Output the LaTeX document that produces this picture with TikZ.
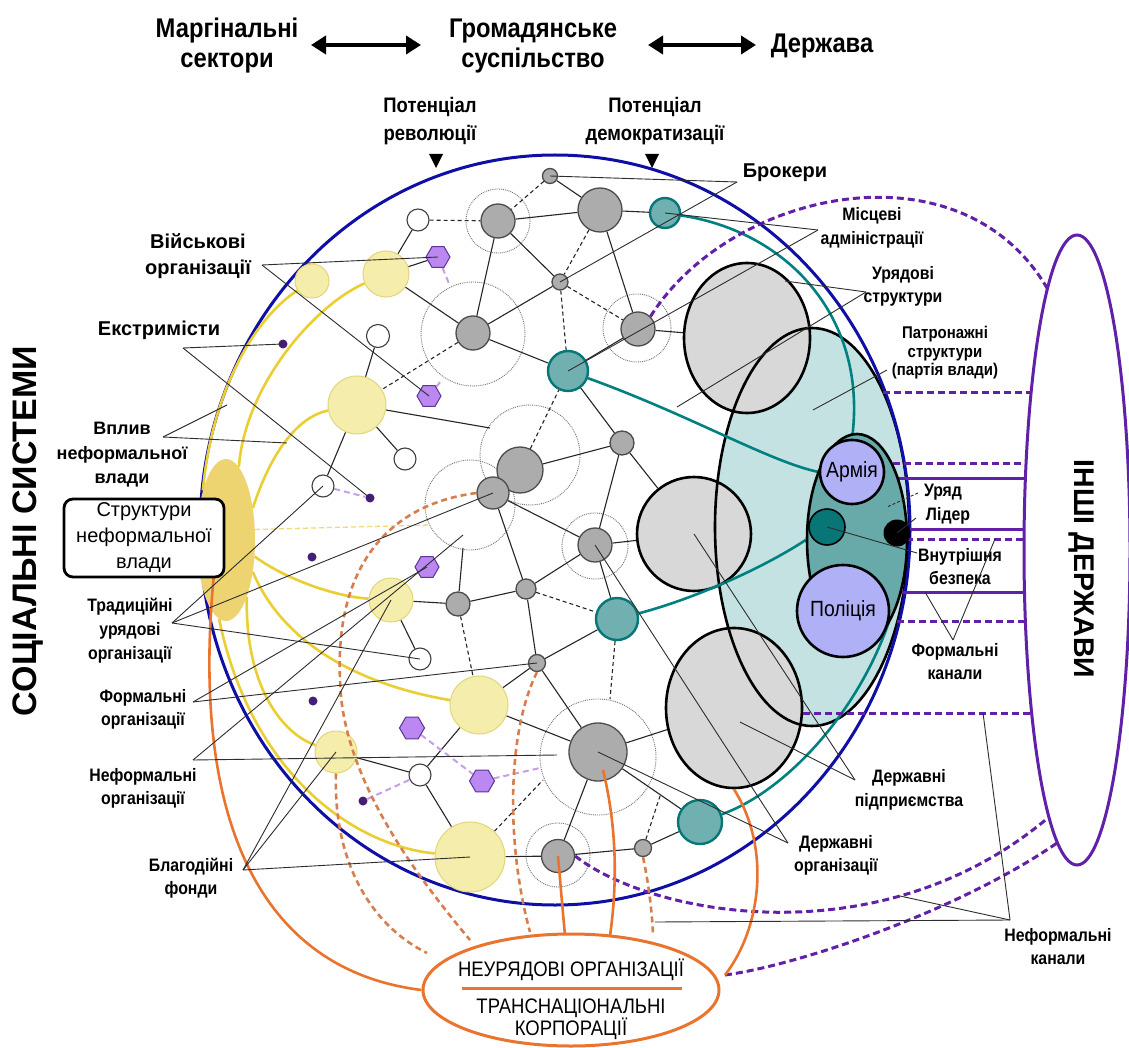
\documentclass[tikz,border=0pt]{standalone}
\usepackage{fontspec}
\setmainfont{Liberation Sans}
\newfontfamily\narfont[FakeStretch=0.88]{Liberation Sans}
\usetikzlibrary{shapes.geometric,arrows.meta}
\pgfdeclarelayer{back}
\pgfdeclarelayer{mid}
\pgfdeclarelayer{front}
\pgfsetlayers{back,mid,main,front}
\definecolor{bluec}{RGB}{15,15,165}
\definecolor{yfill}{RGB}{244,237,172}
\definecolor{yedge}{RGB}{226,214,120}
\definecolor{yline}{RGB}{234,206,52}
\definecolor{blobc}{RGB}{238,212,112}
\definecolor{tealc}{RGB}{0,128,128}
\definecolor{tealfill}{RGB}{112,176,176}
\definecolor{tealbg}{RGB}{196,226,226}
\definecolor{tealin}{RGB}{104,170,170}
\definecolor{tealdark}{RGB}{8,118,118}
\definecolor{gfill}{RGB}{172,172,172}
\definecolor{gbig}{RGB}{216,216,216}
\definecolor{pfill}{RGB}{186,136,240}
\definecolor{pedge}{RGB}{92,52,150}
\definecolor{lav}{RGB}{196,160,232}
\definecolor{dpur}{RGB}{96,32,168}
\definecolor{dotc}{RGB}{70,30,120}
\definecolor{orc}{RGB}{234,116,46}
\definecolor{ordash}{RGB}{214,126,78}
\definecolor{armc}{RGB}{176,176,246}
\definecolor{lblc}{RGB}{45,45,45}
\newcommand\FtTop{\narfont\bfseries\fontsize{27}{30}\selectfont}
\newcommand\FtPot{\narfont\bfseries\fontsize{21}{28}\selectfont}
\newcommand\FtMid{\bfseries\fontsize{20}{26}\selectfont}
\newcommand\FtSm{\narfont\bfseries\fontsize{18}{24}\selectfont}
\newcommand\FtSmB{\narfont\bfseries\fontsize{18}{23}\selectfont}
\newcommand\FtPat{\narfont\bfseries\fontsize{17}{18.5}\selectfont}
\newcommand\FtVp{\bfseries\fontsize{18}{24.5}\selectfont}
\newcommand\FtBox{\fontsize{20}{26}\selectfont}
\newcommand\FtIn{\narfont\fontsize{22}{24}\selectfont}
\newcommand\FtNgo{\narfont\fontsize{21}{22}\selectfont}
\newcommand\FtBig{\bfseries\fontsize{34}{38}\selectfont}
\newcommand\FtSt{\bfseries\fontsize{28.5}{32}\selectfont}
\tikzset{
 gnode/.style={circle,draw=black!70,line width=1.3pt,fill=gfill,inner sep=0pt,minimum size=#1},
 tnode/.style={circle,draw=tealdark,line width=2.4pt,fill=tealfill,inner sep=0pt,minimum size=#1},
 ynode/.style={circle,draw=yedge,line width=1pt,fill=yfill,inner sep=0pt,minimum size=#1},
 wnode/.style={circle,draw=black!75,line width=1.1pt,fill=white,inner sep=0pt,minimum size=#1},
 pnode/.style={regular polygon,regular polygon sides=6,draw=pedge,line width=1pt,fill=pfill,inner sep=0pt,minimum size=#1},
 dnode/.style={circle,fill=dotc,inner sep=0pt,minimum size=9pt},
 ringd/.style={draw=black!55,densely dotted,line width=0.9pt},
 netl/.style={draw=black!85,line width=1.1pt},
 dnetl/.style={draw=black!85,line width=1.1pt,dash pattern=on 4pt off 3pt},
 lavl/.style={draw=lav,line width=2pt,dash pattern=on 6pt off 4pt},
 lblline/.style={draw=lblc,line width=0.9pt},
 yl/.style={draw=yline,line width=2.6pt},
 tl/.style={draw=tealc,line width=2.6pt},
 chs/.style={draw=dpur,line width=3pt},
 chd/.style={draw=dpur,line width=3pt,dash pattern=on 7pt off 4pt},
 ors/.style={draw=orc,line width=2.6pt},
 ord/.style={draw=ordash,line width=2.6pt,dash pattern=on 6pt off 4pt},
 bigc/.style={draw=black,line width=2.6pt,inner sep=0pt},
 txt/.style={align=center,inner sep=0pt,text=black},
 dblarrow/.style={line width=4pt,{Triangle[length=15pt,width=18pt]}-{Triangle[length=15pt,width=18pt]}},
}
\begin{document}
\begin{tikzpicture}[x=1pt,y=-1pt]
\useasboundingbox (0,0) rectangle (1129,1048);

% ---------------- back: fills and big structures
\begin{pgfonlayer}{back}
\fill[white] (0,0) rectangle (1129,1048);
\fill[tealbg] (812,527) ellipse [x radius=97,y radius=199];
\fill[gbig] (747,338) ellipse [x radius=63,y radius=75];
\fill[gbig] (694,534) circle [radius=57];
\fill[gbig] (734,708) ellipse [x radius=68,y radius=80];
\node[bigc,ellipse,minimum width=126,minimum height=150] (gov) at (747,338) {};
\node[bigc,circle,minimum size=114] (mid2) at (694,534) {};
\node[bigc,ellipse,minimum width=136,minimum height=160] (ent) at (734,708) {};
\node[bigc,ellipse,minimum width=194,minimum height=398] (patrel) at (812,527) {};
\draw[bluec,line width=3pt] (555,530) ellipse [x radius=355,y radius=375];
\draw[ringd] (498,221) circle [radius=32];
\draw[ringd] (473,334) circle [radius=52];
\draw[ringd] (637,328) circle [radius=34];
\draw[ringd] (530,455) circle [radius=50];
\draw[ringd] (470,505) circle [radius=45];
\draw[ringd] (595,546) circle [radius=33];
\draw[ringd] (598,757) circle [radius=58];
\draw[ringd] (558,855) circle [radius=32];
\end{pgfonlayer}

% ---------------- main nodes
\node[ellipse,fill=blobc,inner sep=0pt,minimum width=58,minimum height=162] (blob) at (226,540) {};
\node[gnode=15] (g1) at (550,176) {};
\node[gnode=34] (g2) at (498,221) {};
\node[gnode=44] (g3) at (600,210) {};
\node[gnode=16] (g4) at (560,282) {};
\node[gnode=34] (g5) at (473,333) {};
\node[gnode=34] (g6) at (638,329) {};
\node[gnode=46] (g7) at (520,470) {};
\node[gnode=24] (g8) at (622,443) {};
\node[gnode=32] (g9) at (493,493) {};
\node[gnode=34] (g10) at (595,545) {};
\node[gnode=24] (g11) at (458,604) {};
\node[gnode=20] (g12) at (526,589) {};
\node[gnode=17] (g13) at (537,663) {};
\node[gnode=58] (g14) at (598,752) {};
\node[gnode=33] (g15) at (558,856) {};
\node[gnode=17] (g16) at (643,848) {};
\node[tnode=30] (t1) at (665,213) {};
\node[tnode=40] (t2) at (568,371) {};
\node[tnode=42] (t3) at (617,619) {};
\node[tnode=44] (t4) at (700,822) {};
\node[ynode=34] (y1) at (312,281) {};
\node[ynode=46] (y2) at (386,274) {};
\node[ynode=58] (y3) at (357,405) {};
\node[ynode=44] (y4) at (391,600) {};
\node[ynode=58] (y5) at (479,705) {};
\node[ynode=42] (y6) at (336,752) {};
\node[ynode=70] (y7) at (470,857) {};
\node[wnode=22] (w1) at (418,220) {};
\node[wnode=23] (w2) at (378,336) {};
\node[wnode=22] (w3) at (405,459) {};
\node[wnode=22] (w4) at (323,486) {};
\node[wnode=22] (w5) at (420,659) {};
\node[wnode=22] (w6) at (420,775) {};
\node[pnode=24] (p1) at (438,257) {};
\node[pnode=24] (p2) at (429,396) {};
\node[pnode=24] (p3) at (427,567) {};
\node[pnode=25] (p4) at (412,728) {};
\node[pnode=25] (p5) at (482,781) {};
\node[dnode] (d1) at (283,344) {};
\node[dnode] (d2) at (370,498) {};
\node[dnode] (d3) at (312,557) {};
\node[dnode] (d4) at (313,701) {};
\node[dnode] (d5) at (363,801) {};
\node[ellipse,draw=black,line width=2.6pt,fill=tealin,inner sep=0pt,minimum width=100,minimum height=212] (uryad) at (857,540) {};
\node[circle,draw=black,line width=2.6pt,fill=armc,inner sep=0pt,minimum size=64,font=\FtIn] (army) at (852,472) {Армія};
\node[circle,draw=black,line width=2.6pt,fill=armc,inner sep=0pt,minimum size=92,font=\FtIn] (police) at (843,611) {Поліція};
\node[circle,draw=black,line width=1.6pt,fill=tealdark,inner sep=0pt,minimum size=36] (sec) at (827,527) {};
\node[circle,fill=black,inner sep=0pt,minimum size=27] (lead) at (897,533) {};
\node[ellipse,draw=dpur,line width=3pt,inner sep=0pt,minimum width=106,minimum height=630] (states) at (1077,550) {};
\node[ellipse,draw=orc,line width=3pt,fill=white,inner sep=0pt,minimum width=296,minimum height=112] (ngo) at (571,990) {};

% coordinates
\coordinate (r7) at (490,428);
\coordinate (r9) at (463,548);
\coordinate (r14a) at (610,699);
\coordinate (r14b) at (543,780);
\coordinate (r14c) at (540,768);
\coordinate (r14d) at (660,796);
\coordinate (p1s) at (450,286);
\coordinate (p2s) at (441,381);
\coordinate (yd1) at (430,525);
\coordinate (tend) at (896,598);
\coordinate (c392) at (883,392);  \coordinate (s392) at (1031,392);
\coordinate (c463) at (882,463);  \coordinate (s463) at (1026,463);
\coordinate (c478) at (883,478);  \coordinate (s478) at (1025,478);
\coordinate (c529) at (906,529);  \coordinate (s529) at (1024,529);
\coordinate (c539) at (906,539);  \coordinate (s539) at (1024,539);
\coordinate (c592) at (886,592);  \coordinate (s592) at (1024,592);
\coordinate (c621) at (897,621);  \coordinate (s621) at (1025,621);
\coordinate (c713) at (803,713);  \coordinate (s713) at (1032,713);
\coordinate (s288) at (1047,288);
\coordinate (s817) at (1049,817);
\coordinate (s843) at (1057,843);
\coordinate (ngoR) at (725,975);
\coordinate (ngoT1) at (565,935);
\coordinate (orgtop) at (214,574);

% ---------------- back: yellow lines
\begin{pgfonlayer}{back}
\draw[yl] (blob.115) .. controls (212,390) and (255,318) .. (y1);
\draw[yl] (blob.80) .. controls (245,385) and (315,305) .. (y2);
\draw[yl] (blob.50) .. controls (275,440) and (305,415) .. (y3);
\draw[yl] (blob.-30) .. controls (290,582) and (340,597) .. (y4);
\draw[yl] (blob.-50) .. controls (290,660) and (390,690) .. (y5);
\draw[yl] (blob.-70) .. controls (245,690) and (285,735) .. (y6);
\draw[yl] (blob.-95) .. controls (250,770) and (350,845) .. (y7);
\draw[draw=yline!70,line width=1.3pt,dash pattern=on 5pt off 3pt] (blob.20) -- (yd1);
\end{pgfonlayer}

% ---------------- mid: network edges
\begin{pgfonlayer}{mid}
\draw[dnetl] (w1) -- (g2);
\draw[netl] (g2) -- (g3);
\draw[netl] (g3) -- (t1);
\draw[netl] (g1) -- (g3);
\draw[dnetl] (g1) -- (g2);
\draw[netl] (g2) -- (g5);
\draw[netl] (g2) -- (g4);
\draw[dnetl] (g3) -- (g4);
\draw[netl] (g3) -- (g6);
\draw[netl] (g4) -- (g5);
\draw[dnetl] (g4) -- (g6);
\draw[dnetl] (g4) -- (t2);
\draw[netl] (g5) -- (t2);
\draw[netl] (t2) -- (g6);
\draw[netl] (g6) -- (gov);
\draw[netl] (w1) -- (y2);
\draw[netl] (y2) -- (p1);
\draw[netl] (y2) -- (g5);
\draw[dnetl] (g5) -- (y3);
\draw[netl] (w2) -- (y3);
\draw[netl] (y3) -- (w3);
\draw[netl] (w4) -- (y3);
\draw[netl] (y3) -- (r7);
\draw[dnetl] (g7) -- (t2);
\draw[netl] (t2) -- (g8);
\draw[netl] (g8) -- (g7);
\draw[netl] (g8) -- (g10);
\draw[netl] (g8) -- (mid2);
\draw[netl] (g9) -- (g10);
\draw[netl] (g9) -- (g12);
\draw[netl] (g11) -- (r9);
\draw[netl] (g11) -- (g12);
\draw[netl] (g11) -- (y4);
\draw[dnetl] (g11) -- (y5);
\draw[netl] (g12) -- (g10);
\draw[netl] (g12) -- (g13);
\draw[dnetl] (g12) -- (t3);
\draw[netl] (g10) -- (t3);
\draw[netl] (g13) -- (t3);
\draw[dnetl] (t3) -- (r14a);
\draw[netl] (g10) -- (mid2);
\draw[netl] (g13) -- (g14);
\draw[netl] (y5) -- (g13);
\draw[netl] (y5) -- (g14);
\draw[netl] (w6) -- (y5);
\draw[netl] (w6) -- (y6);
\draw[netl] (w6) -- (y7);
\draw[netl] (y4) -- (w5);
\draw[netl] (g14) -- (t4);
\draw[netl] (g14) -- (g15);
\draw[netl] (g14) -- (ent);
\draw[netl] (g15) -- (y7);
\draw[netl] (g15) -- (g16);
\draw[netl] (g16) -- (t4);
\draw[dnetl] (y7) -- (r14b);
\draw[dnetl] (g16) -- (r14d);
\draw[lavl] (p1) -- (p1s);
\draw[lavl] (p2) -- (p2s);
\draw[lavl] (w4) -- (d2);
\draw[lavl] (p4) -- (p5) -- (r14c);
\draw[lavl] (d5) -- (w6);
% teal links
\draw[tl] (t1) .. controls (790,232) and (868,320) .. (army.north);
\draw[tl] (t2) .. controls (690,415) and (770,462) .. (army.west);
\draw[tl] (t3) .. controls (690,600) and (760,570) .. (uryad.west);
\draw[tl] (t4) .. controls (790,790) and (870,700) .. (tend);
% channels
\draw[chd] (g6.north east) .. controls (730,190) and (960,140) .. (s288);
\draw[chd] (c392) -- (s392);
\draw[chd] (c463) -- (s463);
\draw[chs] (c478) -- (s478);
\draw[chs] (c529) -- (s529);
\draw[chd] (c539) -- (s539);
\draw[chs] (c592) -- (s592);
\draw[chd] (c621) -- (s621);
\draw[chd] (c713) -- (s713);
\draw[chd] (g15.east) .. controls (650,915) and (880,960) .. (s817);
\draw[chd] (ngoR) .. controls (800,965) and (960,910) .. (s843);
\end{pgfonlayer}

% ---------------- front: orange, labels
\begin{pgfonlayer}{front}
\draw[ors] (ngo.west) .. controls (260,970) and (190,820) .. (orgtop);
\draw[ors] (g15.center) .. controls (561,890) and (563,915) .. (ngoT1);
\draw[ors] (603,770) .. controls (620,840) and (615,900) .. (610,936);
\draw[ors] (ngoR) .. controls (760,930) and (772,850) .. (ent.south);
\draw[ord] (g9.west) .. controls (385,505) and (335,570) .. (340,680) .. controls (342,780) and (420,880) .. (470,940);
\draw[ord] (y6.south) .. controls (333,860) and (370,925) .. (427,953);
\draw[ord] (g13.south) .. controls (508,730) and (505,840) .. (530,932);
\draw[ord] (g16.south) .. controls (648,880) and (652,910) .. (653,934);

\node[draw=black,line width=2.8pt,rounded corners=9pt,fill=white,minimum width=160,minimum height=78,txt,font=\FtBox] (box) at (144,538) {Структури\\неформальної\\влади};

% texts
\node[txt,font=\FtTop] (marg) at (227,46) {Маргінальні\\сектори};
\node[txt,font=\FtTop] (hrom) at (533,46) {Громадянське\\суспільство};
\node[txt,font=\FtTop] (derzh) at (822,46) {Держава};
\coordinate (ar1a) at (311,45); \coordinate (ar1b) at (421,45);
\coordinate (ar2a) at (648,45); \coordinate (ar2b) at (756,45);
\draw[dblarrow] (ar1a) -- (ar1b);
\draw[dblarrow] (ar2a) -- (ar2b);
\node[txt,font=\FtPot] (potr) at (430,121) {Потенціал\\революції};
\node[txt,font=\FtPot] (potd) at (655,121) {Потенціал\\демократизації};
\fill (429,154) -- (443,154) -- (436,168) -- cycle;
\fill (645,154) -- (659,154) -- (652,168) -- cycle;
\node[txt,font=\FtMid] (brok) at (785,173) {Брокери};
\node[txt,font=\FtSm] (misc) at (872,228) {Місцеві\\адміністрації};
\node[txt,font=\FtSmB] (urst) at (903,286) {Урядові\\структури};
\node[txt,font=\FtPat] (patrl) at (945,353) {Патронажні\\структури\\(партія влади)};
\node[txt,font=\FtSm] (uryl) at (943,492) {Уряд};
\node[txt,font=\FtSm] (lidl) at (948,516) {Лідер};
\node[txt,font=\FtSmB] (vnut) at (960,567) {Внутрішня\\безпека};
\node[txt,font=\FtSmB] (fkan) at (955,662) {Формальні\\канали};
\node[txt,font=\FtSm] (dpid) at (909,790) {Державні\\підприємства};
\node[txt,font=\FtSmB] (dorg) at (836,855) {Державні\\організації};
\node[txt,font=\FtSmB] (nkan) at (1058,947) {Неформальні\\канали};
\node[txt,font=\FtMid] (vijs) at (198,256) {Військові\\організації};
\node[txt,font=\FtMid] (ekst) at (159,330) {Екстримісти};
\node[txt,font=\FtVp] (vpl) at (122,455) {Вплив\\неформальної\\влади};
\node[txt,font=\FtSm] (trad) at (130,631) {Традиційні\\урядові\\організації};
\node[txt,font=\FtSmB] (form) at (143,709) {Формальні\\організації};
\node[txt,font=\FtSmB] (nform) at (143,788) {Неформальні\\організації};
\node[txt,font=\FtSmB] (blag) at (191,878) {Благодійні\\фонди};
\node[txt,font=\FtBig,rotate=90] (soc) at (28,531) {СОЦІАЛЬНІ СИСТЕМИ};
\node[txt,font=\FtSt,rotate=-90] (inshi) at (1081,569) {ІНШІ ДЕРЖАВИ};
\node[txt,font=\FtNgo] (ngo1) at (571,970) {НЕУРЯДОВІ ОРГАНІЗАЦІЇ};
\node[txt,font=\FtNgo] (ngo2) at (571,1019) {ТРАНСНАЦІОНАЛЬНІ\\КОРПОРАЦІЇ};
\draw[orc,line width=3pt] (462,988) -- (682,988);

% label vertices
\coordinate (vbrok) at (737,182);
\coordinate (vmisc) at (818,230);
\coordinate (vur) at (866,292);
\coordinate (vpat) at (887,370);
\coordinate (vury) at (918,493);
\coordinate (vlid) at (916,518);
\coordinate (vvb) at (917,553);
\coordinate (vfk) at (953,640);
\coordinate (vnk) at (1010,920);
\coordinate (vdp) at (855,780);
\coordinate (vdo) at (788,843);
\coordinate (vvo) at (262,265);
\coordinate (vex) at (183,348);
\coordinate (vvp) at (163,437);
\coordinate (vtr) at (172,623);
\coordinate (vfo) at (193,702);
\coordinate (vno) at (193,760);
\coordinate (vbl) at (243,870);
\coordinate (e1) at (785,281);
\coordinate (e2) at (677,407);
\coordinate (e3) at (813,410);
\coordinate (e4) at (887,507);
\coordinate (e5) at (925,592);
\coordinate (e6) at (995,539);
\coordinate (e7) at (983,713);
\coordinate (e8) at (900,896);
\coordinate (e9) at (655,922);
\coordinate (e10) at (740,722);
\coordinate (e11) at (227,405);
\coordinate (e12) at (287,443);
\coordinate (e13) at (463,535);
\coordinate (e14) at (557,755);

\draw[lblline] (vbrok) -- (g1.center);
\draw[lblline] (vbrok) -- (g4.center);
\draw[lblline] (vmisc) -- (t1.center);
\draw[lblline] (vmisc) -- (t2.center);
\draw[lblline] (vur) -- (e1);
\draw[lblline] (vur) -- (e2);
\draw[lblline] (vpat) -- (e3);
\draw[lblline,densely dashed] (vury) -- (e4);
\draw[lblline] (vlid) -- (lead.center);
\draw[lblline] (vvb) -- (sec.center);
\draw[lblline] (vfk) -- (e5);
\draw[lblline] (vfk) -- (e6);
\draw[lblline] (vnk) -- (e7);
\draw[lblline] (vnk) -- (e8);
\draw[lblline] (vnk) -- (e9);
\draw[lblline] (vdp) -- (mid2.center);
\draw[lblline] (vdp) -- (e10);
\draw[lblline] (vdo) -- (g10.center);
\draw[lblline] (vdo) -- (g14.center);
\draw[lblline] (vvo) -- (p1.center);
\draw[lblline] (vvo) -- (p2.center);
\draw[lblline] (vex) -- (d1.center);
\draw[lblline] (vex) -- (d2.center);
\draw[lblline] (vvp) -- (e11);
\draw[lblline] (vvp) -- (e12);
\draw[lblline] (vtr) -- (w4.center);
\draw[lblline] (vtr) -- (w5.center);
\draw[lblline] (vtr) -- (g9.center);
\draw[lblline] (vfo) -- (p3.center);
\draw[lblline] (vfo) -- (g13.center);
\draw[lblline] (vno) -- (e13);
\draw[lblline] (vno) -- (e14);
\draw[lblline] (vbl) -- (y7.center);
\draw[lblline] (vbl) -- (y6.center);
\draw[lblline] (vbl) -- (y4.center);
\end{pgfonlayer}
\end{tikzpicture}
\end{document}
